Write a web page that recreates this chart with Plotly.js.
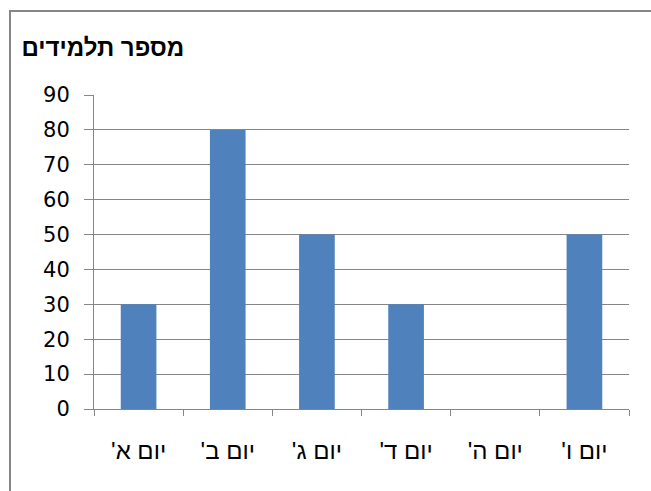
<!DOCTYPE html>
<html><head><meta charset="utf-8">
<script src="https://cdn.plot.ly/plotly-3.0.1.min.js"></script>
<style>
html,body{margin:0;padding:0;background:#fff;}
#wrap{position:relative;width:651px;height:491px;overflow:hidden;}
#chart{position:absolute;left:0;top:0;width:651px;height:491px;}
#frame{position:absolute;left:9px;top:10px;width:700px;height:600px;border-left:2px solid #868686;border-top:2px solid #868686;pointer-events:none;}
</style></head>
<body>
<div id="wrap"><div id="chart"></div><div id="frame"></div></div>
<script>
const categories = ["יום א'\u200F", "יום ב'\u200F", "יום ג'\u200F", "יום ד'\u200F", "יום ה'\u200F", "יום ו'\u200F"];
const students = [30, 80, 50, 30, 0, 50];
const titleText = "מספר תלמידים";
const yTicks = [0, 10, 20, 30, 40, 50, 60, 70, 80, 90];

const hebFont = "Liberation Sans, Arial, sans-serif";
const numFont = "DejaVu Sans, Arial, sans-serif";
Plotly.newPlot('chart', [{
  type: 'bar',
  x: categories,
  y: students,
  marker: {color: '#4F81BD'},
  hoverinfo: 'x+y'
}], {
  width: 651, height: 491,
  margin: {l: 94, r: 22, t: 95, b: 82},
  paper_bgcolor: 'rgba(0,0,0,0)',
  plot_bgcolor: '#fff',
  bargap: 0.6,
  showlegend: false,
  title: {text: titleText, x: 0.033, xanchor: 'left', y: 0.903, yanchor: 'middle',
    font: {family: hebFont, size: 24, color: '#000', weight: 'bold'}},
  xaxis: {
    type: 'category', tickson: 'boundaries', ticks: 'outside', ticklen: 6,
    tickcolor: '#868686', tickwidth: 1, showline: true, linecolor: '#868686', linewidth: 1,
    showgrid: false, tickfont: {family: hebFont, size: 24, color: '#000'},
    ticklabelstandoff: 20, fixedrange: true
  },
  yaxis: {
    range: [0, 90], tickvals: yTicks, ticks: 'outside', ticklen: 9,
    tickcolor: '#868686', tickwidth: 1, showline: true, linecolor: '#868686', linewidth: 1,
    showgrid: true, gridcolor: '#868686', gridwidth: 1, zeroline: false,
    tickfont: {family: numFont, size: 21, color: '#000'}, ticklabelstandoff: 10, fixedrange: true
  }
}, {displayModeBar: false, staticPlot: true});
</script>
</body></html>
